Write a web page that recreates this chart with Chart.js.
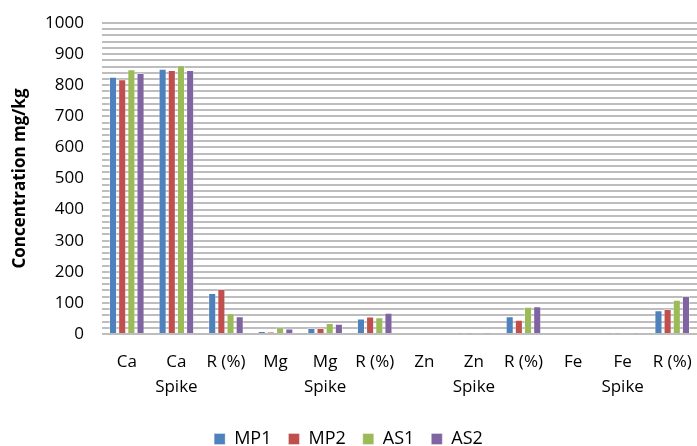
<!DOCTYPE html>
<html>
<head>
<meta charset="utf-8">
<script src="https://cdn.jsdelivr.net/npm/chart.js@4/dist/chart.umd.min.js"></script>
<style>
  html, body { margin: 0; padding: 0; background: #fff; overflow: hidden; }
  /* a bit taller than the window so the legend sits low like the original */
  #wrap { width: 697px; height: 458px; }
</style>
</head>
<body>
<div id="wrap"><canvas id="c"></canvas></div>
<script>
// categories (multi-line labels like the original axis)
const labels = [["Ca"], ["Ca", "Spike"], ["R (%)"], ["Mg"], ["Mg", "Spike"], ["R (%)"],
                ["Zn"], ["Zn", "Spike"], ["R (%)"], ["Fe"], ["Fe", "Spike"], ["R (%)"]];

const mp1 = [827, 853, 132, 9, 19, 50, 0, 1, 57, 0, 1, 76];
const mp2 = [819, 849, 145, 7, 19, 56, 0, 1, 46, 0, 1, 80];
const as1 = [851, 864, 67, 22, 35, 54, 0, 1, 88, 0, 1, 110];
const as2 = [839, 849, 57, 18, 33, 68, 0, 1, 89, 0, 1, 122];

const yMax = 1000;
const yStep = 20;

const font = "'Open Sans', 'Liberation Sans', sans-serif";

function ds(name, data, color) {
  return {
    label: name,
    data: data,
    backgroundColor: color,
    borderColor: "rgba(255,255,255,0.35)",
    borderWidth: 1,
    barPercentage: 0.88,
    categoryPercentage: 0.74
  };
}

new Chart(document.getElementById("c"), {
  type: "bar",
  data: {
    labels: labels,
    datasets: [
      ds("MP1", mp1, "#4f81bd"),
      ds("MP2", mp2, "#c0504d"),
      ds("AS1", as1, "#9bbb59"),
      ds("AS2", as2, "#8064a2")
    ]
  },
  options: {
    responsive: true,
    maintainAspectRatio: false,
    animation: false,
    layout: { padding: { top: 23, right: 0, left: 0, bottom: 0 } },
    plugins: {
      tooltip: { enabled: false },
      legend: {
        position: "bottom",
        labels: {
          boxWidth: 11,
          boxHeight: 11,
          padding: 17,
          color: "#000",
          font: { family: font, size: 18 }
        }
      }
    },
    scales: {
      x: {
        grid: { display: false, drawTicks: false },
        border: { display: false },
        ticks: {
          color: "#000",
          padding: 16,
          maxRotation: 0,
          autoSkip: false,
          font: { family: font, size: 17, lineHeight: 1.45 }
        },
        afterFit: function (s) {
          s.height = 79;
          s.paddingLeft = 0;
          s.paddingRight = 0;
        }
      },
      y: {
        min: 0,
        max: yMax,
        grid: { color: "#bdbdbd", lineWidth: 2, drawTicks: false },
        border: { display: false },
        ticks: {
          stepSize: yStep,
          autoSkip: false,
          color: "#000",
          padding: 18,
          font: { family: font, size: 17 },
          callback: function (v) { return v % 100 === 0 ? v : ""; }
        },
        title: {
          display: true,
          text: "Concentration mg/kg",
          color: "#000",
          padding: { top: 10, bottom: 0 },
          font: { family: font, size: 17, weight: "bold" }
        },
        afterFit: function (s) {
          s.width = 102;
          s.paddingTop = 0;
          s.paddingBottom = 0;
        }
      }
    }
  }
});
</script>
</body>
</html>
